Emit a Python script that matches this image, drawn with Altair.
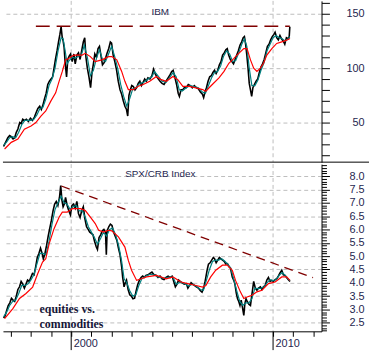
import altair as alt
import pandas as pd

# ---------------- IBM (top panel) ----------------
ibm_years = [1996.65, 1996.70, 1996.78, 1996.86, 1996.95, 1997.03, 1997.12, 1997.20, 1997.28, 1997.36,
             1997.45, 1997.52, 1997.60, 1997.68, 1997.78, 1997.88, 1997.98, 1998.08, 1998.18, 1998.26,
             1998.35, 1998.44, 1998.52, 1998.60, 1998.68, 1998.76, 1998.84, 1998.92, 1999.00, 1999.08,
             1999.15, 1999.22, 1999.30, 1999.37, 1999.44, 1999.50, 1999.55, 1999.60, 1999.65, 1999.70,
             1999.77, 1999.83, 1999.90, 1999.97, 2000.05, 2000.13, 2000.20, 2000.28, 2000.36, 2000.44,
             2000.52, 2000.60, 2000.67, 2000.73, 2000.80, 2000.88, 2000.96, 2001.03, 2001.10, 2001.17,
             2001.25, 2001.33, 2001.40, 2001.47, 2001.55, 2001.63, 2001.70, 2001.78, 2001.86, 2001.94,
             2002.00, 2002.08, 2002.16, 2002.25, 2002.33, 2002.42, 2002.50, 2002.58, 2002.66, 2002.74,
             2002.80, 2002.86, 2002.93, 2003.00, 2003.08, 2003.16, 2003.24, 2003.32, 2003.40, 2003.48,
             2003.56, 2003.64, 2003.72, 2003.80, 2003.90, 2004.00, 2004.08, 2004.16, 2004.24, 2004.32,
             2004.40, 2004.50, 2004.60, 2004.70, 2004.80, 2004.90, 2004.98, 2005.05, 2005.13, 2005.22,
             2005.30, 2005.36, 2005.44, 2005.52, 2005.60, 2005.70, 2005.80, 2005.90, 2006.00, 2006.10,
             2006.20, 2006.30, 2006.40, 2006.50, 2006.56, 2006.63, 2006.70, 2006.78, 2006.86, 2006.94,
             2007.02, 2007.10, 2007.18, 2007.26, 2007.34, 2007.42, 2007.50, 2007.58, 2007.66, 2007.73,
             2007.80, 2007.88, 2007.96, 2008.04, 2008.12, 2008.20, 2008.28, 2008.36, 2008.44, 2008.52,
             2008.58, 2008.64, 2008.70, 2008.76, 2008.82, 2008.88, 2008.94, 2009.00, 2009.08, 2009.16,
             2009.24, 2009.32, 2009.40, 2009.48, 2009.56, 2009.64, 2009.72, 2009.80, 2009.88, 2009.96,
             2010.04, 2010.10, 2010.18, 2010.26, 2010.34, 2010.42, 2010.50, 2010.58, 2010.66, 2010.74,
             2010.80, 2010.83]
ibm_price = [28, 30, 33, 36, 38, 37, 35, 36, 41, 44,
             50, 49, 53, 52, 53, 51, 54, 52, 55, 59,
             63, 65, 62, 66, 72, 77, 85, 88, 90, 92,
             100, 108, 116, 124, 131, 138, 129, 125, 119, 105,
             92, 108, 111, 113, 106, 113, 104, 112, 114, 108,
             116, 124, 128, 110, 100, 92, 82, 96, 104, 113,
             110, 118, 120, 112, 103, 105, 109, 114, 118, 124,
             123, 112, 106, 98, 88, 80, 76, 70, 65, 62,
             56, 75, 80, 84, 83, 80, 82, 86, 88, 84,
             87, 90, 88, 91, 90, 93, 99, 95, 92, 90,
             88, 86, 85, 88, 91, 94, 97, 98, 92, 85,
             77, 74, 80, 80, 82, 82, 85, 84, 82, 84,
             82, 81, 78, 76, 73, 78, 82, 88, 92, 93,
             96, 98, 95, 98, 103, 106, 112, 114, 117, 118,
             112, 108, 106, 104, 108, 112, 116, 121, 124, 128,
             129, 122, 112, 100, 86, 80, 74, 82, 85, 88,
             90, 96, 101, 104, 108, 114, 120, 122, 126, 129,
             131, 133, 128, 126, 130, 127, 125, 122, 128, 127,
             129, 138]

ibm_fast_years = [1996.65, 1996.8, 1996.95, 1997.1, 1997.25, 1997.4, 1997.55, 1997.7, 1997.85, 1998.0,
                  1998.15, 1998.3, 1998.45, 1998.6, 1998.75, 1998.9, 1999.05, 1999.2, 1999.35, 1999.5,
                  1999.6, 1999.7, 1999.8, 1999.9, 2000.05, 2000.2, 2000.35, 2000.5, 2000.65, 2000.8,
                  2000.95, 2001.1, 2001.25, 2001.4, 2001.55, 2001.7, 2001.85, 2002.0, 2002.15, 2002.3,
                  2002.45, 2002.6, 2002.75, 2002.9, 2003.05, 2003.2, 2003.4, 2003.6, 2003.8, 2004.0,
                  2004.12, 2004.3, 2004.5, 2004.7, 2004.9, 2005.05, 2005.2, 2005.35, 2005.5, 2005.7,
                  2005.9, 2006.1, 2006.3, 2006.5, 2006.65, 2006.8, 2006.95, 2007.1, 2007.25, 2007.4,
                  2007.55, 2007.7, 2007.85, 2008.0, 2008.15, 2008.3, 2008.45, 2008.58, 2008.7, 2008.82,
                  2008.95, 2009.1, 2009.25, 2009.4, 2009.55, 2009.7, 2009.85, 2010.0, 2010.15, 2010.3,
                  2010.45, 2010.6, 2010.75, 2010.83]
ibm_fast = [29, 32, 36, 37, 36, 41, 48, 52, 52, 52,
            53, 57, 63, 64, 72, 84, 90, 100, 116, 128,
            127, 116, 104, 107, 110, 109, 111, 112, 121, 110,
            93, 98, 109, 117, 108, 106, 113, 120, 111, 100,
            85, 74, 65, 72, 81, 82, 86, 87, 90, 92,
            97, 93, 88, 87, 92, 96, 92, 80, 79, 82,
            84, 83, 82, 78, 77, 84, 91, 96, 97, 102,
            111, 116, 113, 106, 107, 114, 122, 127, 120, 100,
            84, 84, 89, 98, 105, 116, 122, 128, 130, 128,
            127, 125, 127, 129]

ibm_slow_years = [1996.7, 1997.03, 1997.36, 1997.68, 1998.01, 1998.25, 1998.5, 1998.74, 1998.99, 1999.23,
                  1999.4, 1999.56, 1999.72, 1999.89, 2000.13, 2000.54, 2000.7, 2000.95, 2001.19, 2001.52,
                  2001.85, 2002.01, 2002.26, 2002.5, 2002.66, 2002.83, 2003.08, 2003.32, 2003.57, 2003.89,
                  2004.22, 2004.46, 2004.71, 2005.04, 2005.28, 2005.53, 2005.85, 2006.18, 2006.51, 2006.67,
                  2006.83, 2006.99, 2007.32, 2007.57, 2007.81, 2008.06, 2008.3, 2008.55, 2008.71, 2008.88,
                  2009.04, 2009.2, 2009.37, 2009.53, 2009.69, 2009.94, 2010.18, 2010.43, 2010.67, 2010.84]
ibm_slow = [25.7, 31.8, 34.8, 43.9, 46.9, 50, 56, 60.6, 69.7, 77.3,
            87.8, 97, 107.6, 109, 112, 112, 113.6, 110.6, 106, 107.6,
            110.6, 110.6, 107.6, 97, 87.9, 80.3, 80.3, 83.3, 85, 87.9,
            92.4, 89.4, 87.9, 92.4, 89.4, 83.3, 83.3, 81.8, 80.3, 78.7,
            82, 85, 91, 97, 104.5, 109, 113.6, 118, 118, 107.6,
            100, 97, 100, 104.5, 112, 118, 122.7, 124.2, 125.7, 127.2]

ibm_resist_years = [1998.25, 2010.83]
ibm_resist = [138.5, 138.5]

# ---------------- SPX/CRB (bottom panel) ----------------
ratio_years = [1996.65, 1996.72, 1996.80, 1996.88, 1996.96, 1997.04, 1997.12, 1997.20, 1997.28, 1997.36,
               1997.44, 1997.52, 1997.60, 1997.68, 1997.76, 1997.84, 1997.92, 1998.00, 1998.08, 1998.16,
               1998.24, 1998.32, 1998.40, 1998.48, 1998.56, 1998.62, 1998.70, 1998.78, 1998.86, 1998.94,
               1999.02, 1999.10, 1999.18, 1999.26, 1999.34, 1999.42, 1999.48, 1999.54, 1999.60, 1999.66,
               1999.72, 1999.80, 1999.88, 1999.96, 2000.04, 2000.12, 2000.20, 2000.28, 2000.36, 2000.44,
               2000.52, 2000.60, 2000.68, 2000.76, 2000.84, 2000.92, 2001.00, 2001.08, 2001.16, 2001.24,
               2001.30, 2001.38, 2001.46, 2001.54, 2001.62, 2001.70, 2001.74, 2001.78, 2001.86, 2001.94,
               2002.02, 2002.10, 2002.18, 2002.26, 2002.34, 2002.42, 2002.50, 2002.55, 2002.62, 2002.68,
               2002.74, 2002.82, 2002.90, 2002.98, 2003.06, 2003.14, 2003.22, 2003.30, 2003.38, 2003.46,
               2003.54, 2003.62, 2003.70, 2003.80, 2003.90, 2004.00, 2004.10, 2004.20, 2004.30, 2004.40,
               2004.50, 2004.60, 2004.70, 2004.80, 2004.90, 2005.00, 2005.08, 2005.16, 2005.24, 2005.32,
               2005.40, 2005.50, 2005.60, 2005.70, 2005.78, 2005.86, 2005.94, 2006.02, 2006.10, 2006.20,
               2006.30, 2006.40, 2006.48, 2006.56, 2006.62, 2006.68, 2006.74, 2006.80, 2006.88, 2006.96,
               2007.04, 2007.10, 2007.18, 2007.26, 2007.34, 2007.42, 2007.50, 2007.58, 2007.66, 2007.74,
               2007.82, 2007.89, 2007.98, 2008.05, 2008.11, 2008.18, 2008.24, 2008.30, 2008.36, 2008.42,
               2008.48, 2008.55, 2008.60, 2008.66, 2008.72, 2008.80, 2008.88, 2008.96, 2009.04, 2009.12,
               2009.20, 2009.28, 2009.37, 2009.45, 2009.53, 2009.61, 2009.69, 2009.77, 2009.85, 2009.94,
               2010.02, 2010.10, 2010.18, 2010.26, 2010.35, 2010.43, 2010.51, 2010.59, 2010.67, 2010.75,
               2010.84]
ratio = [2.68, 2.75, 2.95, 3.15, 3.25, 3.42, 3.35, 3.30, 3.50, 3.75,
         3.85, 4.05, 3.95, 3.80, 3.95, 4.10, 4.05, 4.20, 4.35, 4.30,
         4.60, 4.95, 5.10, 5.30, 5.10, 4.90, 5.10, 5.40, 5.75, 6.05,
         6.35, 6.70, 6.95, 7.05, 6.90, 7.20, 7.65, 7.10, 6.85, 6.95,
         7.20, 6.90, 6.70, 6.55, 6.90, 6.95, 6.80, 7.05, 6.60, 6.45,
         6.70, 6.85, 6.40, 6.10, 6.00, 5.90, 5.85, 5.80, 5.55, 5.35,
         5.25, 5.70, 5.80, 5.95, 6.00, 5.90, 5.05, 5.95, 6.10, 6.20,
         6.15, 5.90, 5.75, 5.60, 5.30, 5.05, 4.60, 4.20, 3.85, 4.00,
         4.10, 3.75, 3.55, 3.50, 3.40, 3.42, 3.70, 3.95, 4.10, 4.20,
         4.25, 4.20, 4.28, 4.30, 4.35, 4.40, 4.30, 4.28, 4.20, 4.25,
         4.15, 4.12, 4.20, 4.25, 4.20, 4.25, 4.05, 3.85, 3.95, 4.10,
         4.05, 4.00, 3.95, 3.97, 3.80, 3.90, 4.00, 3.95, 3.90, 3.85,
         3.80, 3.70, 3.65, 3.80, 4.00, 4.25, 4.50, 4.70, 4.75, 4.85,
         4.95, 4.90, 4.75, 4.85, 4.95, 4.90, 4.85, 4.80, 4.70, 4.72,
         4.60, 4.55, 4.22, 4.10, 3.95, 3.60, 3.40, 3.30, 3.15, 3.35,
         3.10, 2.78, 3.20, 3.40, 3.30, 3.20, 3.15, 3.60, 4.05, 3.80,
         3.72, 3.80, 3.85, 3.75, 3.85, 3.90, 4.10, 4.20, 4.05, 4.09,
         4.05, 4.12, 4.15, 4.25, 4.38, 4.47, 4.30, 4.28, 4.20, 4.12,
         4.05]

ratio_fast_years = [1996.65, 1996.8, 1996.95, 1997.1, 1997.25, 1997.4, 1997.55, 1997.7, 1997.85, 1998.0,
                    1998.15, 1998.3, 1998.45, 1998.6, 1998.75, 1998.9, 1999.05, 1999.2, 1999.35, 1999.5,
                    1999.65, 1999.8, 1999.95, 2000.1, 2000.25, 2000.4, 2000.55, 2000.7, 2000.85, 2001.0,
                    2001.15, 2001.3, 2001.45, 2001.6, 2001.75, 2001.9, 2002.05, 2002.2, 2002.35, 2002.5,
                    2002.62, 2002.75, 2002.9, 2003.05, 2003.2, 2003.35, 2003.5, 2003.7, 2003.9, 2004.1,
                    2004.3, 2004.5, 2004.7, 2004.9, 2005.05, 2005.2, 2005.4, 2005.6, 2005.8, 2006.0,
                    2006.2, 2006.4, 2006.55, 2006.7, 2006.85, 2007.0, 2007.15, 2007.3, 2007.45, 2007.6,
                    2007.75, 2007.9, 2008.05, 2008.2, 2008.35, 2008.5, 2008.65, 2008.8, 2008.95, 2009.1,
                    2009.25, 2009.4, 2009.55, 2009.7, 2009.85, 2010.0, 2010.15, 2010.3, 2010.45, 2010.6,
                    2010.75, 2010.84]
ratio_fast = [2.72, 2.9, 3.15, 3.3, 3.35, 3.6, 3.9, 3.9, 3.95, 4.1,
              4.3, 4.7, 5.1, 5.1, 5.05, 5.55, 6.2, 6.75, 7.0, 7.25,
              7.0, 6.95, 6.75, 6.85, 6.9, 6.7, 6.7, 6.45, 6.1, 5.9,
              5.7, 5.45, 5.65, 5.9, 5.75, 6.0, 6.05, 5.8, 5.4, 4.8,
              4.15, 4.0, 3.7, 3.5, 3.55, 3.9, 4.15, 4.25, 4.32, 4.3,
              4.22, 4.18, 4.18, 4.22, 4.2, 3.95, 4.02, 3.98, 3.88, 3.95,
              3.87, 3.75, 3.72, 4.1, 4.5, 4.8, 4.85, 4.85, 4.9, 4.82,
              4.7, 4.55, 4.15, 3.7, 3.3, 3.15, 3.25, 3.25, 3.4, 3.8,
              3.78, 3.8, 3.85, 4.0, 4.12, 4.08, 4.12, 4.28, 4.38, 4.28,
              4.15, 4.08]

ratio_slow_years = [1996.7, 1997.11, 1997.44, 1997.76, 1998.09, 1998.34, 1998.58, 1998.74, 1998.91, 1999.15,
                    1999.4, 1999.56, 1999.8, 2000.05, 2000.46, 2000.7, 2000.95, 2001.19, 2001.36, 2001.6,
                    2001.85, 2002.01, 2002.34, 2002.66, 2002.83, 2002.99, 2003.24, 2003.48, 2003.73, 2004.22,
                    2004.71, 2005.04, 2005.44, 2005.77, 2006.18, 2006.51, 2006.67, 2006.91, 2007.16, 2007.49,
                    2007.73, 2007.98, 2008.14, 2008.38, 2008.55, 2008.71, 2008.96, 2009.2, 2009.45, 2009.77,
                    2010.1, 2010.43, 2010.67, 2010.84]
ratio_slow = [2.66, 3.03, 3.41, 3.6, 3.84, 4.34, 4.78, 4.9, 5.47, 6.03,
              6.46, 6.65, 6.65, 6.78, 6.78, 6.71, 6.46, 6.22, 5.97, 5.9,
              5.97, 5.95, 5.72, 5.34, 4.84, 4.47, 4.09, 4.15, 4.22, 4.28,
              4.15, 4.22, 4.03, 3.97, 3.9, 3.84, 3.9, 4.22, 4.47, 4.66,
              4.66, 4.47, 4.09, 3.66, 3.41, 3.47, 3.53, 3.66, 3.72, 3.97,
              4.03, 4.22, 4.22, 4.09]

trend_years = [1999.51, 2011.98]
trend = [7.63, 4.19]

# ---------------- axes / labels ----------------
grid_years = [2000, 2010]
x_tick_years = list(range(1997, 2013))
ibm_ticks = list(range(20, 161, 10))
ratio_ticks = [round(2.2 + 0.1 * i, 1) for i in range(63)]

LABEL = "#1f1f4f"
FONT = "Liberation Sans"
W, H1, H2 = 322, 163, 169


def frame(years, vals):
    return pd.DataFrame({"year": years, "v": vals})


xs = alt.Scale(domain=[1996.62, 2012.4], nice=False, zero=False)

# ---- top panel ----
top_test = "datum.value % 50 === 0"
x_top = alt.X("year:Q", scale=xs, axis=None)
y_top = alt.Y(
    "v:Q",
    scale=alt.Scale(domain=[13.6, 161.8], nice=False, zero=False),
    axis=alt.Axis(
        orient="right", values=ibm_ticks, title=None,
        labelExpr=top_test + " ? datum.label : ''",
        grid=True, gridDash=[4, 3], gridColor="#bdbdbd",
        gridOpacity={"condition": {"test": top_test, "value": 1}, "value": 0},
        domainColor="black", tickColor="black", tickSize=8,
        labelAlign="right", labelPadding=35, labelFont=FONT,
        labelFontSize={"condition": {"test": top_test, "value": 11}, "value": 0},
        labelColor=LABEL, labelOverlap=False, labelBound=False,
    ),
)

vgrid_top = alt.Chart(pd.DataFrame({"year": grid_years})).mark_rule(
    color="#bdbdbd", strokeDash=[4, 3], strokeWidth=1
).encode(x=x_top)

resist = alt.Chart(frame(ibm_resist_years, ibm_resist)).mark_line(
    color="#800000", strokeDash=[14, 7], strokeWidth=1.5
).encode(x=x_top, y=y_top)
ibm_black = alt.Chart(frame(ibm_years, ibm_price)).mark_line(
    color="black", strokeWidth=1.6
).encode(x=x_top, y=y_top)
ibm_teal = alt.Chart(frame(ibm_fast_years, ibm_fast)).mark_line(
    color="#008080", strokeWidth=1.2
).encode(x=x_top, y=y_top)
ibm_red = alt.Chart(frame(ibm_slow_years, ibm_slow)).mark_line(
    color="#ff0000", strokeWidth=1.2
).encode(x=x_top, y=y_top)
ibm_title = alt.Chart(pd.DataFrame({"t": ["IBM"]})).mark_text(
    font=FONT, fontSize=10, color=LABEL, align="center", baseline="middle"
).encode(x=alt.value(159), y=alt.value(11), text="t:N")
divider = alt.Chart(pd.DataFrame({"a": [0]})).mark_rule(color="black", strokeWidth=1).encode(
    x=alt.value(0), x2=alt.value(370), y=alt.value(H1)
)

top = alt.layer(vgrid_top, ibm_black, ibm_teal, ibm_red, resist, ibm_title, divider).properties(
    width=W, height=H1
)

# ---- bottom panel ----
x_bot = alt.X(
    "year:Q", scale=xs,
    axis=alt.Axis(
        values=x_tick_years, format="d", title=None,
        labelExpr="(datum.value === 2000 || datum.value === 2010) ? datum.label : ''",
        grid=False, domainColor="black", tickColor="black", tickSize=5,
        labelAlign="left", labelBaseline="top", labelOffset=2, labelPadding=1,
        labelFont=FONT, labelFontSize=11, labelColor=LABEL,
        labelOverlap=False, labelFlush=False, labelBound=False,
    ),
)
half_test = "abs(datum.value * 2 - round(datum.value * 2)) < 0.001"
y_bot = alt.Y(
    "v:Q",
    scale=alt.Scale(domain=[2.18, 8.45], nice=False, zero=False),
    axis=alt.Axis(
        orient="right", values=ratio_ticks, title=None,
        labelExpr=half_test + " ? format(datum.value, '.1f') : ''",
        grid=True, gridDash=[4, 3], gridColor="#bdbdbd",
        gridOpacity={"condition": {"test": half_test, "value": 1}, "value": 0},
        domainColor="black", tickColor="black",
        tickSize={"condition": {"test": half_test, "value": 8}, "value": 5},
        labelAlign="right", labelPadding=35, labelFont=FONT,
        labelFontSize={"condition": {"test": half_test, "value": 11}, "value": 0},
        labelColor=LABEL, labelOverlap=False, labelBound=False,
    ),
)

vgrid_bot = alt.Chart(pd.DataFrame({"year": grid_years})).mark_rule(
    color="#bdbdbd", strokeDash=[4, 3], strokeWidth=1
).encode(x=x_bot)
long_ticks = alt.Chart(pd.DataFrame({"year": grid_years})).mark_rule(
    color="black", strokeWidth=1
).encode(x=x_bot, y=alt.value(H2), y2=alt.value(H2 + 19))
trend_line = alt.Chart(frame(trend_years, trend)).mark_line(
    color="#800000", strokeDash=[9, 6], strokeWidth=1.3
).encode(x=x_bot, y=y_bot)
r_black = alt.Chart(frame(ratio_years, ratio)).mark_line(
    color="black", strokeWidth=1.6
).encode(x=x_bot, y=y_bot)
r_teal = alt.Chart(frame(ratio_fast_years, ratio_fast)).mark_line(
    color="#008080", strokeWidth=1.2
).encode(x=x_bot, y=y_bot)
r_red = alt.Chart(frame(ratio_slow_years, ratio_slow)).mark_line(
    color="#ff0000", strokeWidth=1.2
).encode(x=x_bot, y=y_bot)
r_title = alt.Chart(pd.DataFrame({"t": ["SPX/CRB Index"]})).mark_text(
    font=FONT, fontSize=10, color=LABEL, align="center", baseline="middle"
).encode(x=alt.value(159), y=alt.value(10.5), text="t:N")
note1 = alt.Chart(pd.DataFrame({"t": ["equities vs."]})).mark_text(
    font="Liberation Serif", fontSize=12, fontWeight="bold", color="#161638",
    align="left", baseline="alphabetic"
).encode(x=alt.value(37), y=alt.value(150), text="t:N")
note2 = alt.Chart(pd.DataFrame({"t": ["commodities"]})).mark_text(
    font="Liberation Serif", fontSize=12, fontWeight="bold", color="#161638",
    align="left", baseline="alphabetic"
).encode(x=alt.value(37), y=alt.value(166), text="t:N")

bottom = alt.layer(vgrid_bot, r_black, r_teal, r_red, trend_line, r_title, note1, note2, long_ticks).properties(
    width=W, height=H2
)

chart = (
    alt.vconcat(top, bottom, spacing=0)
    .properties(padding={"left": 0, "top": -2, "right": 0, "bottom": 0})
    .configure_view(stroke=None)
    .configure_concat(spacing=0)
)

chart.save("out.html", embed_options={"renderer": "svg", "actions": False})
